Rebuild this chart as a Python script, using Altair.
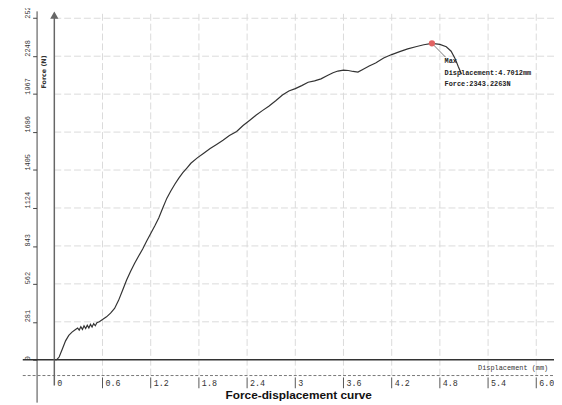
import altair as alt
import pandas as pd

# ---------------- data ----------------
disp = [0, 0.03, 0.06, 0.10, 0.14, 0.18, 0.22, 0.26, 0.29, 0.31, 0.33, 0.35, 0.37, 0.39,
        0.41, 0.43, 0.45, 0.47, 0.49, 0.51, 0.53, 0.56, 0.60, 0.65, 0.70, 0.75, 0.80, 0.85,
        0.90, 0.95, 1.00, 1.05, 1.10, 1.15, 1.20, 1.25, 1.30, 1.35, 1.40, 1.45, 1.50, 1.55,
        1.60, 1.65, 1.70, 1.78, 1.86, 1.94, 2.02, 2.10, 2.18, 2.27, 2.35, 2.43, 2.51, 2.59,
        2.67, 2.76, 2.84, 2.92, 3.00, 3.08, 3.16, 3.24, 3.32, 3.40, 3.47, 3.53, 3.60, 3.66,
        3.72, 3.78, 3.84, 3.92, 4.00, 4.10, 4.20, 4.30, 4.40, 4.50, 4.60, 4.7012, 4.80, 4.88,
        4.94, 4.99, 5.03, 5.07]
force = [0, 0, 20, 80, 140, 180, 205, 222, 235, 220, 245, 225, 252, 232,
         256, 236, 262, 242, 268, 252, 275, 282, 298, 318, 345, 380, 440, 515,
         590, 655, 715, 768, 820, 880, 935, 990, 1050, 1124, 1195, 1250, 1300, 1345,
         1385, 1420, 1455, 1495, 1530, 1565, 1595, 1625, 1660, 1690, 1735, 1772, 1810, 1845,
         1878, 1920, 1960, 1990, 2008, 2030, 2055, 2065, 2080, 2105, 2125, 2138, 2145, 2142,
         2135, 2130, 2150, 2175, 2198, 2235, 2260, 2282, 2302, 2318, 2333, 2343.2263, 2335, 2318,
         2285, 2230, 2170, 2115]

x_ticks = [0, 0.6, 1.2, 1.8, 2.4, 3.0, 3.6, 4.2, 4.8, 5.4, 6.0]
x_tick_labels = ["0", "0.6", "1.2", "1.8", "2.4", "3", "3.6", "4.2", "4.8", "5.4", "6.0"]
y_ticks = [0, 281, 562, 843, 1124, 1405, 1686, 1967, 2248, 2529]

max_disp = 4.7012
max_force = 2343.2263
max_lines = ["Max", "Displacement:4.7012mm", "Force:2343.2263N"]

chart_title = "Force-displacement curve"
x_title = "Displacement (mm)"
y_title = "Force (N)"

# ---------------- scales / layout ----------------
X_DOM = [0, 6.2209]
Y_DOM = [-313.8, 2583.7]
xs = alt.Scale(domain=X_DOM, nice=False, zero=False)
ys = alt.Scale(domain=Y_DOM, nice=False, zero=False)

yaxis = alt.Axis(values=y_ticks, format="d", title="", grid=False, orient="left", offset=18,
                 domainColor="#444", domainWidth=1, tickColor="#444", tickSize=4,
                 labelAngle=270, labelAlign="left", labelBaseline="middle", labelPadding=5,
                 labelFont="Liberation Mono", labelFontSize=7, labelColor="#333",
                 labelOverlap=False, labelFlush=False)
xaxis = alt.Axis(labels=False, ticks=False, domain=False, grid=False, title="")


def X(f):
    return alt.X(f, type="quantitative", scale=xs, axis=xaxis)


def Y(f):
    return alt.Y(f, type="quantitative", scale=ys, axis=yaxis)


curve_df = pd.DataFrame({"x": disp, "y": force})

# grid lines
hgrid = pd.DataFrame({"x": [0] * (len(y_ticks) - 1), "x2": [X_DOM[1]] * (len(y_ticks) - 1),
                      "y": y_ticks[1:]})
vgrid = pd.DataFrame({"x": x_ticks[1:], "y": [-116.8] * (len(x_ticks) - 1),
                      "y2": [Y_DOM[1]] * (len(x_ticks) - 1)})

grid_h = alt.Chart(hgrid).mark_rule(color="#dadada", strokeWidth=1, strokeDash=[7, 3]).encode(
    x=X("x"), x2="x2", y=Y("y"))
grid_v = alt.Chart(vgrid).mark_rule(color="#dadada", strokeWidth=1, strokeDash=[7, 3]).encode(
    x=X("x"), y=Y("y"), y2="y2")

# zero line and dashed base line
zero_line = alt.Chart(pd.DataFrame({"x": [-0.393], "x2": [X_DOM[1]], "y": [0]})).mark_rule(
    color="#333", strokeWidth=1.5).encode(x=X("x"), x2="x2", y=Y("y"))
dash_line = alt.Chart(pd.DataFrame({"x": [-0.393], "x2": [X_DOM[1]], "y": [-116.8]})).mark_rule(
    color="#777", strokeWidth=1, strokeDash=[3, 2]).encode(x=X("x"), x2="x2", y=Y("y"))

# arrow y axis
shaft = alt.Chart(pd.DataFrame({"x": [0], "y": [-189.8], "y2": [2554]})).mark_rule(
    color="#666", strokeWidth=1.5).encode(x=X("x"), y=Y("y"), y2="y2")
head = alt.Chart(pd.DataFrame({"x": [0], "y": [2552]})).mark_point(
    shape="triangle-up", filled=True, size=70, color="#666", opacity=1).encode(x=X("x"), y=Y("y"))

# x ticks and labels
xt = pd.DataFrame({"x": x_ticks, "lab": x_tick_labels, "y": [-131] * len(x_ticks),
                   "y2": [-211] * len(x_ticks), "ly": [-175.2] * len(x_ticks)})
x_tick_marks = alt.Chart(xt[xt.x > 0]).mark_rule(color="#555", strokeWidth=1).encode(
    x=X("x"), y=Y("y"), y2="y2")
x_tick_text = alt.Chart(xt).mark_text(align="left", baseline="middle", dx=3,
                                      font="Liberation Mono", fontSize=8.5, color="#333").encode(
    x=X("x"), y=Y("ly"), text="lab:N")

# curve
curve = alt.Chart(curve_df).mark_line(color="#333", strokeWidth=1.2).encode(
    x=X("x"), y=Y("y"))

# max point + annotation
pt = alt.Chart(pd.DataFrame({"x": [max_disp], "y": [max_force]})).mark_point(
    filled=True, size=40, color="#e06262", opacity=1).encode(x=X("x"), y=Y("y"))
leader = alt.Chart(pd.DataFrame({"x": [max_disp], "y": [max_force], "x2": [4.871], "y2": [2240.7]})).mark_rule(
    color="#555", strokeWidth=0.8).encode(x=X("x"), y=Y("y"), x2="x2", y2="y2")
ann = alt.Chart(pd.DataFrame({"x": [4.859] * 3, "y": [2211.5, 2124, 2043.6], "t": max_lines})).mark_text(
    align="left", baseline="middle", font="Liberation Mono", fontSize=7, fontWeight="bold",
    color="#222").encode(x=X("x"), y=Y("y"), text="t:N")

# axis titles and chart title
xlab = alt.Chart(pd.DataFrame({"x": [5.276], "y": [-58.4], "t": [x_title]})).mark_text(
    align="left", baseline="middle", font="Liberation Mono", fontSize=7, color="#333").encode(
    x=X("x"), y=Y("y"), text="t:N")
ylab = alt.Chart(pd.DataFrame({"x": [-0.1227], "y": [2131], "t": [y_title]})).mark_text(
    align="center", baseline="middle", angle=270, font="DejaVu Sans", fontSize=6.5,
    fontWeight="bold", color="#333").encode(x=X("x"), y=Y("y"), text="t:N")
title = alt.Chart(pd.DataFrame({"x": [3.043], "y": [-291.9], "t": [chart_title]})).mark_text(
    align="center", baseline="alphabetic", font="Liberation Sans", fontSize=12,
    fontWeight="bold", color="#111").encode(x=X("x"), y=Y("y"), text="t:N")

chart = alt.layer(grid_h, grid_v, dash_line, zero_line, shaft, head, x_tick_marks, x_tick_text,
                  curve, leader, pt, ann, xlab, ylab, title).properties(
    width=507, height=397,
    autosize=alt.AutoSizeParams(type="none"),
    padding={"left": 47, "top": 0, "right": 0, "bottom": 0},
    background="white",
).configure_view(strokeWidth=0)

chart.save("out.html", embed_options={"renderer": "svg", "actions": False})
